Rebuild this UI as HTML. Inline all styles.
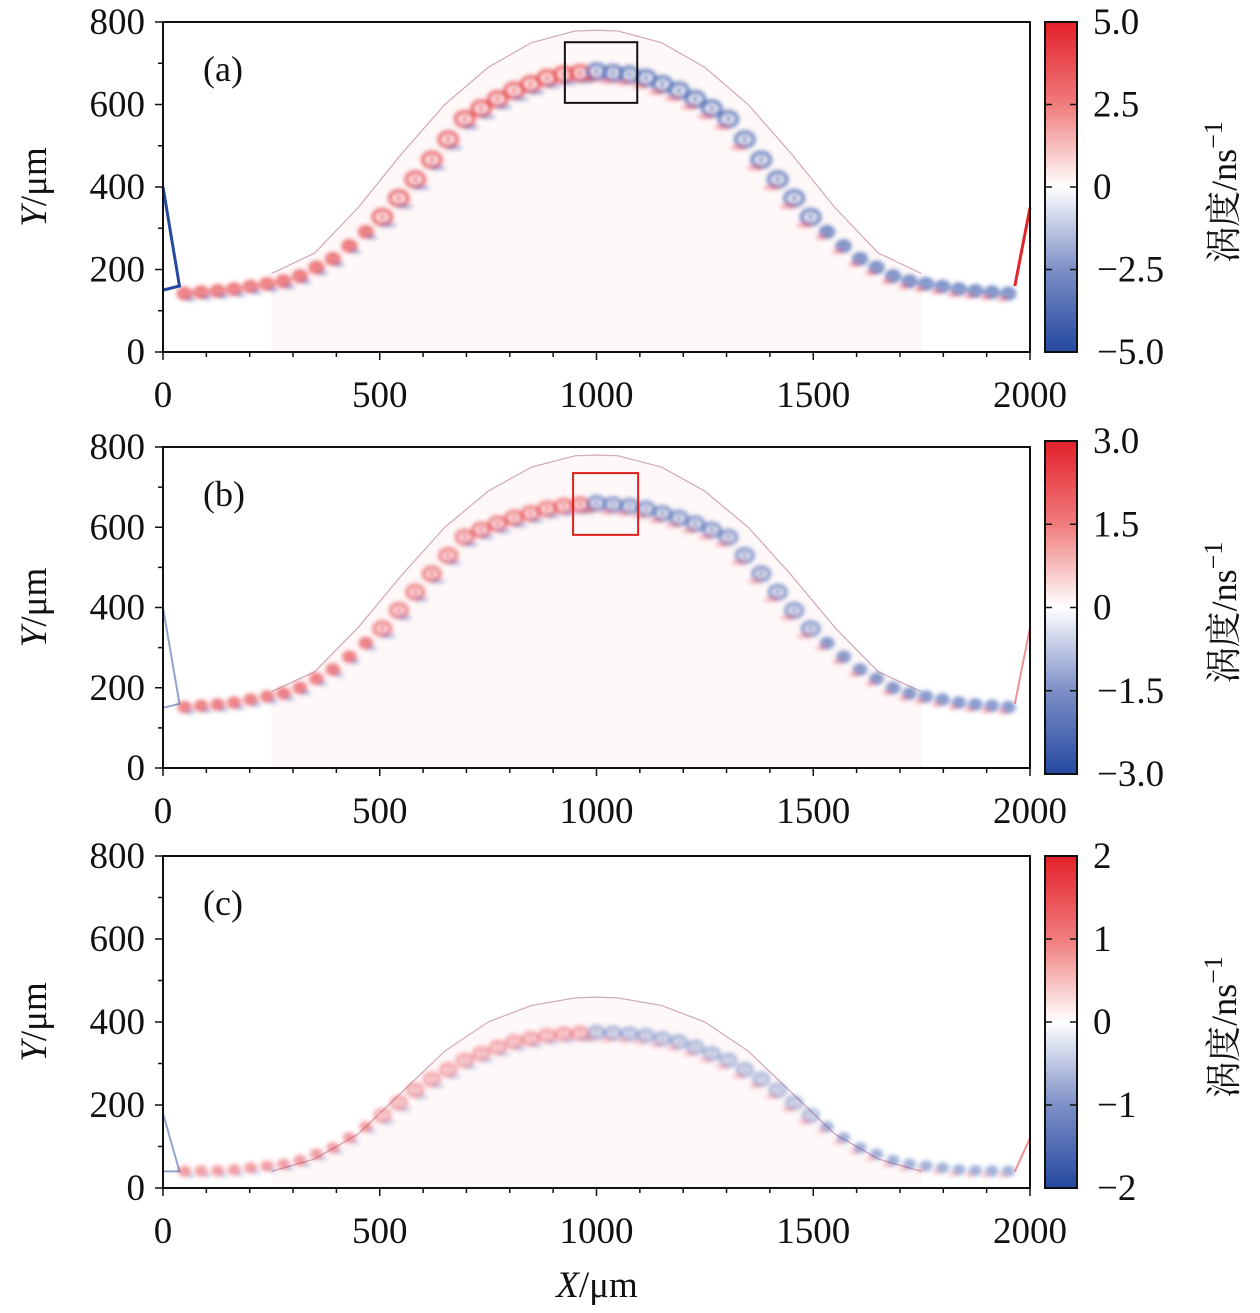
<!DOCTYPE html>
<html><head><meta charset="utf-8">
<style>
html,body{margin:0;padding:0;background:#fff;}
svg{display:block;}
text{font-family:"Liberation Serif","Noto Serif CJK SC",serif;fill:#111;}
</style></head>
<body>
<svg id="fig" width="1260" height="1313" viewBox="0 0 1260 1313" xmlns="http://www.w3.org/2000/svg">
<defs>
<linearGradient id="cmap" x1="0" y1="0" x2="0" y2="1">
<stop offset="0" stop-color="#e3202a"/>
<stop offset="0.25" stop-color="#f07c7c"/>
<stop offset="0.5" stop-color="#ffffff"/>
<stop offset="0.75" stop-color="#7d8fc6"/>
<stop offset="1" stop-color="#2448a0"/>
</linearGradient>
<filter id="blur" x="-20%" y="-20%" width="140%" height="140%"><feGaussianBlur stdDeviation="2"/></filter>
</defs>
</svg>
<script>
// ---- data ----
const xTicks = [0, 500, 1000, 1500, 2000];
const yTicks = [0, 200, 400, 600, 800];
const panelLabels = ['(a)', '(b)', '(c)'];
const cbTicksA = ['5.0', '2.5', '0', '\u22122.5', '\u22125.0'];
const cbTicksB = ['3.0', '1.5', '0', '\u22121.5', '\u22123.0'];
const cbTicksC = ['2', '1', '0', '\u22121', '\u22122'];
// vortex chain profile (x µm, y µm)
const chainX = [30, 150, 300, 400, 500, 600, 700, 800, 900, 1000, 1100, 1200, 1300, 1400, 1500, 1600, 1700, 1850, 1970];
const chainYA = [140, 150, 175, 230, 320, 440, 570, 630, 670, 680, 670, 630, 570, 440, 320, 230, 175, 150, 140];
const chainYB = [150, 160, 190, 250, 340, 460, 580, 620, 650, 660, 650, 620, 580, 460, 340, 250, 190, 160, 150];
const chainYC = [40, 42, 60, 100, 170, 250, 310, 350, 370, 375, 370, 350, 310, 250, 170, 100, 60, 42, 40];
// front (shock) profile
const frontX = [250, 350, 450, 550, 650, 750, 850, 950, 1000, 1050, 1150, 1250, 1350, 1450, 1550, 1650, 1750];
const frontYA = [190, 240, 350, 480, 600, 690, 750, 778, 780, 778, 750, 690, 600, 480, 350, 240, 190];
const frontYB = [190, 240, 350, 480, 600, 690, 750, 778, 780, 778, 750, 690, 600, 480, 350, 240, 190];
const frontYC = [40, 70, 130, 230, 330, 400, 440, 458, 460, 458, 440, 400, 330, 230, 130, 70, 40];
// highlight boxes [x0,x1,y0,y1] µm
const boxA = [927, 1094, 604, 751];
const boxB = [946, 1096, 581, 735];

const panels = [
  {top:22, bot:352, cbTop:22, cbBot:352, chain:chainYA, front:frontYA, cb:cbTicksA, box:boxA, boxCol:'#111', amp:1.0, size:1.0},
  {top:447, bot:768, cbTop:441, cbBot:774, chain:chainYB, front:frontYB, cb:cbTicksB, box:boxB, boxCol:'#e02020', amp:0.85, size:0.9},
  {top:856, bot:1188, cbTop:856, cbBot:1188, chain:chainYC, front:frontYC, cb:cbTicksC, box:null, boxCol:null, amp:0.6, size:0.8}
];
const X0 = 163, X1 = 1030;
const svg = document.getElementById('fig');
const NS = 'http://www.w3.org/2000/svg';
function mk(tag, attrs, parent){const e=document.createElementNS(NS,tag);for(const k in attrs)e.setAttribute(k,attrs[k]);(parent||svg).appendChild(e);return e;}
function interp(xs, ys, x){for(let i=0;i<xs.length-1;i++){if(x>=xs[i]&&x<=xs[i+1]){const t=(x-xs[i])/(xs[i+1]-xs[i]);return ys[i]+t*(ys[i+1]-ys[i]);}}return x<xs[0]?ys[0]:ys[ys.length-1];}

panels.forEach((p, pi) => {
  const sx = v => X0 + v / 2000 * (X1 - X0);
  const sy = v => p.bot - v / 800 * (p.bot - p.top);
  const g = mk('g', {});
  
  
  const field = mk('g', {}, g);
  
  
  let d = 'M' + sx(frontX[0]) + ',' + sy(0);
  frontX.forEach((x, i) => d += ' L' + sx(x) + ',' + sy(p.front[i]));
  d += ' L' + sx(frontX[frontX.length-1]) + ',' + sy(0) + 'Z';
  mk('path', {d:d, fill:'#fef8f8', stroke:'none'}, field);
  let fd = '';
  frontX.forEach((x, i) => fd += (i ? ' L' : 'M') + sx(x) + ',' + sy(p.front[i]));
  const fl = mk('path', {d:fd, fill:'none', stroke:'#b07090', 'stroke-width':1.2, opacity:0.6}, field);
  
  
  const vg = mk('g', {filter:'url(#blur)'}, field);
  for (let x = 50; x <= 1950; x += 38) {
    const y = interp(chainX, p.chain, x);
    const cx = sx(x), cy = sy(y);
    const dist = Math.abs(x - 1000);
    const r = (dist < 500 ? 9 : 6) * p.size;
    const leftSide = x < 1000;
    const c1 = leftSide ? '#e0262c' : '#2a4ea6';
    const c2 = leftSide ? '#2a4ea6' : '#e0262c';
    const a1 = 0.75 * p.amp, a2 = 0.4 * p.amp;
    const ox = leftSide ? 6 : -6;
    const v1 = mk('ellipse', {cx:cx, cy:cy, rx:r, ry:r*0.8, fill:'none', stroke:c1, 'stroke-width':3.5, opacity:a1}, vg);
    
    
    mk('circle', {cx:cx, cy:cy, r:2.5, fill:c1, opacity:a1}, vg);
    mk('ellipse', {cx:cx+ox, cy:cy+r*0.9, rx:r*0.9, ry:2.5, fill:c2, opacity:a2}, vg);
  }
  const wl = mk('path', {d:'M' + sx(0) + ',' + sy(pi===2?180:400) + ' L' + sx(38) + ',' + sy(pi===2?40:160) + ' L' + sx(0) + ',' + sy(pi===2?40:150), fill:'none', stroke:'#2548a0', 'stroke-width':pi===0?3:2, opacity:pi===0?1:0.5}, field);
  
  
  const wr = mk('path', {d:'M' + sx(2000) + ',' + sy(pi===2?120:350) + ' L' + sx(1965) + ',' + sy(pi===2?40:160), fill:'none', stroke:'#e0262c', 'stroke-width':pi===0?3:2, opacity:pi===0?1:0.5}, field);
  
  
  if (p.box) {
    const b = mk('rect', {x:sx(p.box[0]), y:sy(p.box[3]), width:sx(p.box[1])-sx(p.box[0]), height:sy(p.box[2])-sy(p.box[3]), fill:'none', stroke:p.boxCol, 'stroke-width':2}, g);
    
    
  }
  const fr = mk('rect', {x:X0, y:p.top, width:X1-X0, height:p.bot-p.top, fill:'none', stroke:'#111', 'stroke-width':2}, g);
  
  
  for (let v = 0; v <= 2000; v += 100) {
    const L = v % 500 === 0 ? 8 : 5;
    mk('line', {x1:sx(v), x2:sx(v), y1:p.bot, y2:p.bot+L, stroke:'#111', 'stroke-width':1.5}, g);
  }
  for (let v = 0; v <= 800; v += 100) {
    const L = v % 200 === 0 ? 8 : 5;
    mk('line', {x1:X0-L, x2:X0, y1:sy(v), y2:sy(v), stroke:'#111', 'stroke-width':1.5}, g);
  }
  xTicks.forEach(v => {
    const t = mk('text', {x:sx(v), y:p.bot+55, 'font-size':37, 'text-anchor':'middle'}, g);
    t.textContent = v;
    
    
  });
  yTicks.forEach(v => {
    const t = mk('text', {x:X0-18, y:sy(v)+12, 'font-size':37, 'text-anchor':'end'}, g);
    t.textContent = v;
    
    
  });
  const pl = mk('text', {x:203, y:p.top+59, 'font-size':36}, g);
  pl.textContent = panelLabels[pi];
  
  
  const yt = mk('text', {x:0, y:0, 'font-size':37, 'text-anchor':'middle', transform:'translate(46,' + ((p.top+p.bot)/2) + ') rotate(-90)'}, g);
  yt.innerHTML = '<tspan font-style="italic">Y</tspan>/\u03bcm';
  
  
  const cb = mk('rect', {x:1045, y:p.cbTop, width:32, height:p.cbBot-p.cbTop, fill:'url(#cmap)', stroke:'#111', 'stroke-width':2}, g);
  
  
  p.cb.forEach((lab, i) => {
    const y = p.cbTop + i * (p.cbBot - p.cbTop) / 4;
    if (i > 0 && i < 4) {
      mk('line', {x1:1045, x2:1052, y1:y, y2:y, stroke:'#111', 'stroke-width':1.5}, g);
      mk('line', {x1:1070, x2:1077, y1:y, y2:y, stroke:'#111', 'stroke-width':1.5}, g);
    }
    const t = mk('text', {x:lab[0]==='\u2212' ? 1097 : 1093, y:y+12, 'font-size':37}, g);
    t.textContent = lab;
    
    
  });
  const ct = mk('text', {x:0, y:0, 'font-size':36, 'text-anchor':'middle', transform:'translate(1236,' + ((p.cbTop+p.cbBot)/2 + 5) + ') rotate(-90)'}, g);
  ct.innerHTML = '涡度/ns<tspan dy="-14" font-size="26">\u22121</tspan>';
  
  
});
const xt = mk('text', {x:597, y:1297, 'font-size':37, 'text-anchor':'middle'});
xt.innerHTML = '<tspan font-style="italic">X</tspan>/\u03bcm';


</script>
</body></html>
